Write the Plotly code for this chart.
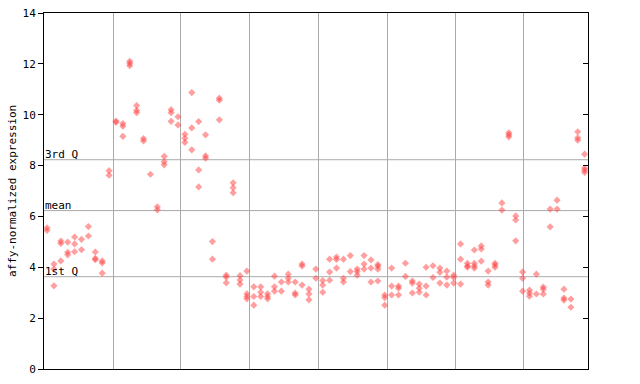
import plotly.graph_objects as go

# ---- data: affy-normalized expression per sample (replicates), 8 groups ----
group1 = [[5.55, 5.45], [4.13, 3.93, 3.27], [5.03, 4.94, 4.25], [4.99, 4.59, 4.49],
          [5.19, 4.92, 4.61], [5.10, 4.69], [5.60, 5.23], [4.60, 4.35, 4.30],
          [4.25, 4.17, 3.77], [7.80, 7.62]]
group2 = [[9.75, 9.70], [9.65, 9.55, 9.15], [12.10, 12.02, 11.93], [10.36, 10.17, 10.08],
          [9.06, 8.97], [7.66], [6.38, 6.26], [8.36, 8.15, 8.03],
          [10.20, 10.08, 9.74], [9.92, 9.60]]
group3 = [[9.23, 9.07, 8.91], [10.87, 9.48, 8.62], [9.73, 7.83, 7.16], [9.21, 8.38, 8.29],
          [5.01, 4.32], [10.65, 10.57, 9.80], [3.69, 3.61, 3.39], [7.32, 7.13, 6.93],
          [3.67, 3.50, 3.34], [3.85, 2.96, 2.85, 2.76]]
group4 = [[3.23, 2.85, 2.51], [3.23, 3.02, 2.85], [2.96, 2.85, 2.76], [3.65, 3.23, 3.06],
          [3.42, 3.06], [3.73, 3.57, 3.42], [3.42, 2.99, 2.91], [4.13, 4.05, 3.30],
          [3.14, 2.95, 2.72], [3.93, 3.57]]
group5 = [[3.48, 3.30, 3.02], [4.32, 3.81, 3.49], [4.40, 4.31, 3.97], [4.32, 3.57, 3.42],
          [4.46, 3.83], [3.93, 3.83, 3.69], [4.46, 4.13, 3.93], [4.29, 3.97, 3.42],
          [4.11, 4.04, 3.93, 3.46], [2.91, 2.81, 2.51]]
group6 = [[3.97, 3.26, 2.91], [3.26, 3.18, 2.91], [4.16, 3.64], [3.46, 3.38, 2.99],
          [3.34, 3.18, 3.02], [4.00, 3.26, 2.91], [4.06, 3.60], [3.97, 3.80, 3.38],
          [3.85, 3.61, 3.30], [3.69, 3.60, 3.38]]
group7 = [[4.92, 4.32, 3.34], [4.16, 4.05, 4.00], [4.68, 4.16, 4.05, 3.97], [4.84, 4.72, 4.24],
          [3.85, 3.42, 3.30], [4.16, 4.09, 4.00], [6.53, 6.25], [9.29, 9.21, 9.13],
          [6.02, 5.86, 5.04], [3.81, 3.57, 3.06]]
group8 = [[3.10, 2.98, 2.86], [3.73, 2.95], [3.22, 3.14, 2.95], [6.29, 5.59],
          [6.64, 6.29], [3.14, 2.79, 2.71], [2.75, 2.43], [9.33, 9.09, 9.00],
          [8.45, 7.90, 7.82, 7.73]]

groups = [group1, group2, group3, group4, group5, group6, group7, group8]

# group separators (sample-index units)
group_edges = [9.64, 19.42, 29.44, 39.32, 49.34, 59.22, 69.1]

# summary lines
q3_value = 8.23
mean_value = 6.23
q1_value = 3.63

y_ticks = [0, 2, 4, 6, 8, 10, 12, 14]
y_title = "affy-normalized expression"

# ---- flatten ----
xs, ys = [], []
idx = 0
for g in groups:
    for sample in g:
        for v in sample:
            xs.append(idx)
            ys.append(v)
        idx += 1
n_samples = idx

RED = "rgba(255,64,64,0.5)"
GRID = "#aaaaaa"
FONT = "DejaVu Sans Mono"

fig = go.Figure()
fig.add_trace(go.Scatter(
    x=xs, y=ys, mode="markers",
    marker=dict(symbol="diamond", size=5.5, color=RED, line=dict(width=0)),
    hoverinfo="y", showlegend=False,
))
# dummy trace for right axis
fig.add_trace(go.Scatter(x=[None], y=[None], yaxis="y2", showlegend=False, hoverinfo="skip"))

shapes = []
for val in (q3_value, mean_value, q1_value):
    shapes.append(dict(type="line", xref="paper", x0=0, x1=1, yref="y", y0=val, y1=val,
                       line=dict(color=GRID, width=1), layer="below"))

annotations = []
for label, val in (("3rd Q", q3_value), ("mean", mean_value), ("1st Q", q1_value)):
    annotations.append(dict(text=label, xref="paper", x=0, xanchor="left", xshift=-1,
                            yref="y", y=val, yanchor="bottom", yshift=-3, showarrow=False,
                            font=dict(family=FONT, size=11, color="black")))
annotations.append(dict(text=y_title, xref="paper", x=0, xshift=-32, xanchor="center",
                        yref="paper", y=0.5, yanchor="middle", textangle=-90, showarrow=False,
                        font=dict(family=FONT, size=11, color="black")))

fig.update_layout(
    width=640, height=384,
    margin=dict(l=44, r=52, t=13, b=15, pad=0, autoexpand=False),
    paper_bgcolor="white", plot_bgcolor="white",
    font=dict(family=FONT, size=11, color="black"),
    xaxis=dict(range=[-0.44, n_samples - 0.51], tickvals=group_edges, showticklabels=False,
               ticks="", showgrid=True, gridcolor=GRID, gridwidth=1, zeroline=False,
               showline=True, linecolor="black", linewidth=1, mirror=True, automargin=False),
    yaxis=dict(range=[0, 14], tickvals=y_ticks, ticktext=[str(t) for t in y_ticks],
               ticks="outside", ticklen=5, tickcolor="black", showgrid=False, zeroline=False,
               showline=True, linecolor="black", linewidth=1, automargin=False,
               tickfont=dict(family=FONT, size=11)),
    yaxis2=dict(range=[0, 14], tickvals=y_ticks, overlaying="y", side="right",
                ticks="inside", ticklen=5, tickcolor="black", showticklabels=False,
                showgrid=False, zeroline=False, showline=True, linecolor="black", linewidth=1,
                automargin=False),
    shapes=shapes, annotations=annotations,
)

fig.write_html("out.html", config={"displayModeBar": False},
               post_script="document.body.style.margin='0px';")
